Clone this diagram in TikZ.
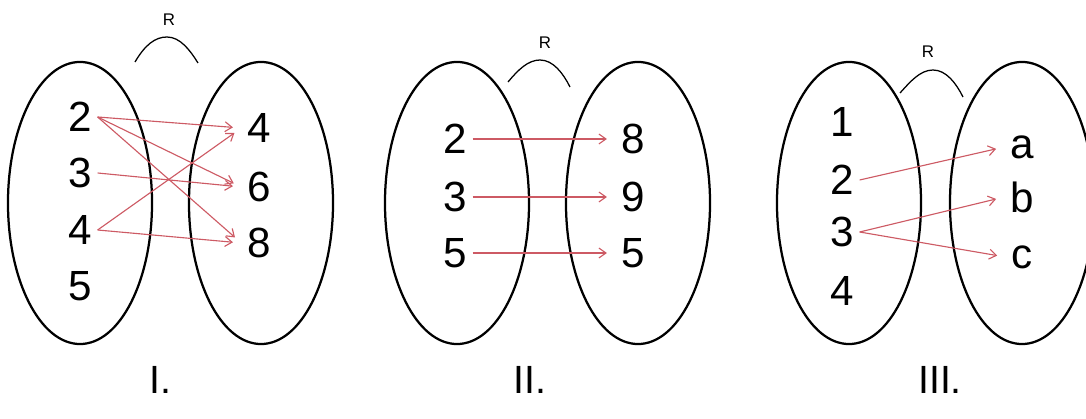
\documentclass[tikz,border=0pt]{standalone}
\usepackage{fontspec}
\setmainfont{Liberation Sans}
\usetikzlibrary{shapes.geometric,arrows,arrows.meta,positioning}
\definecolor{maparrow}{RGB}{205,90,100}
\tikzset{
  setbox/.style={ellipse,draw,line width=1.6pt,minimum width=3.6cm,minimum height=7.05cm,inner sep=0pt},
  elem/.style={inner sep=4pt,font=\fontsize{30}{32}\selectfont},
  maps/.style={-{Straight Barb[length=5pt,width=7pt]},draw=maparrow,line width=0.8pt,shorten >=6pt},
  relname/.style={font=\fontsize{12}{13}\selectfont},
  capline/.style={line width=0.9pt},
  caption/.style={font=\fontsize{28}{30}\selectfont}
}

\begin{document}
\begin{tikzpicture}[x=0.025cm,y=-0.025cm]
    \useasboundingbox (0,0) rectangle (1086,419);

    % Relation I
    \node[setbox] (domI) at (80,203) {};
    \node[setbox] (codI) at (261,203) {};
    \node[elem] (i2) at (80,117) {2};
    \node[elem] (i3) at (80,173) {3};
    \node[elem] (i4) at (80,230) {4};
    \node[elem] (i5) at (80,286) {5};
    \node[elem] (j4) at (259,128) {4};
    \node[elem] (j6) at (259,187) {6};
    \node[elem] (j8) at (259,243) {8};
    \draw[maps] (i2.east) -- (j4.west);
    \draw[maps] (i2.east) -- (j6.west);
    \draw[maps] (i2.east) -- (j8.west);
    \draw[maps] (i3.east) -- (j6.west);
    \draw[maps] (i4.east) -- (j4.west);
    \draw[maps] (i4.east) -- (j8.west);
    \node[relname] (relI) at (169,20) {R};
    \coordinate (capIl) at (135,62);
    \coordinate (capIt) at (167,37);
    \coordinate (capIr) at (198,63);
    \draw[capline] (capIl) .. controls (145,45) and (155,37) .. (capIt)
        .. controls (180,37) and (190,50) .. (capIr);
    \node[caption] (capI) at (160,380) {I.};

    % Relation II
    \node[setbox] (domII) at (457,203) {};
    \node[setbox] (codII) at (638,203) {};
    \node[elem] (ii2) at (455,139) {2};
    \node[elem] (ii3) at (455,197) {3};
    \node[elem] (ii5) at (455,253) {5};
    \node[elem] (jj8) at (633,139) {8};
    \node[elem] (jj9) at (633,197) {9};
    \node[elem] (jj5) at (633,253) {5};
    \draw[maps] (ii2.east) -- (jj8.west);
    \draw[maps] (ii3.east) -- (jj9.west);
    \draw[maps] (ii5.east) -- (jj5.west);
    \node[relname] (relII) at (545,43) {R};
    \coordinate (capIIl) at (508,82);
    \coordinate (capIIt) at (540,60);
    \coordinate (capIIr) at (570,87);
    \draw[capline] (capIIl) .. controls (518,70) and (528,60) .. (capIIt)
        .. controls (553,60) and (563,73) .. (capIIr);
    \node[caption] (capII) at (530,380) {II.};

    % Relation III
    \node[setbox] (domIII) at (849,203) {};
    \node[setbox] (codIII) at (1022,203) {};
    \node[elem] (iii1) at (842,122) {1};
    \node[elem] (iii2) at (842,180) {2};
    \node[elem] (iii3) at (842,232) {3};
    \node[elem] (iii4) at (842,291) {4};
    \node[elem] (jja) at (1022,147) {a};
    \node[elem] (jjb) at (1022,197) {b};
    \node[elem] (jjc) at (1022,257) {c};
    \draw[maps] (iii2.east) -- (jja.west);
    \draw[maps] (iii3.east) -- (jjb.west);
    \draw[maps] (iii3.east) -- (jjc.west);
    \node[relname] (relIII) at (928,52) {R};
    \coordinate (capIIIl) at (900,93);
    \coordinate (capIIIt) at (933,70);
    \coordinate (capIIIr) at (963,97);
    \draw[capline] (capIIIl) .. controls (910,82) and (920,70) .. (capIIIt)
        .. controls (946,70) and (956,83) .. (capIIIr);
    \node[caption] (capIII) at (940,380) {III.};
\end{tikzpicture}
\end{document}
